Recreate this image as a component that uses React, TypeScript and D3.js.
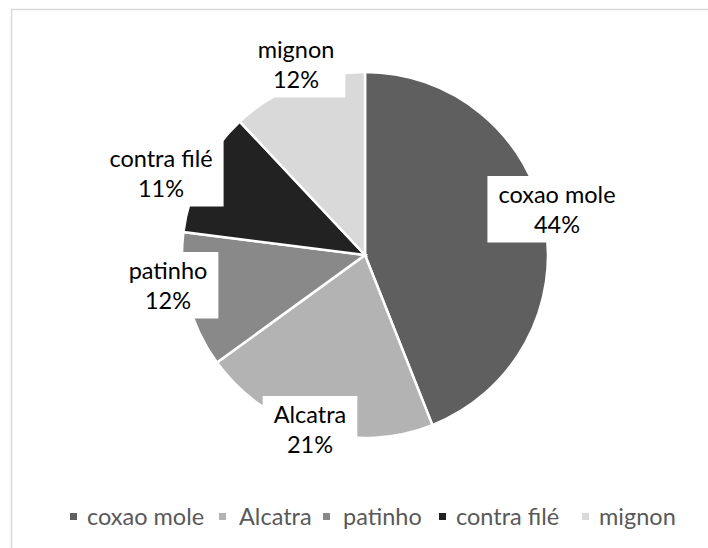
import React from "react";
import * as d3 from "d3";

const categories = ["coxao mole", "Alcatra", "patinho", "contra filé", "mignon"];
const values = [44, 21, 12, 11, 12];
const percentLabels = ["44%", "21%", "12%", "11%", "12%"];
const colors = ["#5f5f5f", "#b3b3b3", "#898989", "#222222", "#d9d9d9"];

// label layout: centre x, first baseline
const labelPos: [number, number][] = [
  [557, 203],
  [310, 423],
  [168, 279],
  [161, 167],
  [296, 58],
];
const legendMarkerX = [70, 219, 323, 439, 582];
const legendTextX = [87, 239, 343, 456, 599];

const W = 708;
const H = 548;
const cx = 365;
const cy = 255;
const R = 183;
const FS = 23.5;
const FONT = "Lato, 'Open Sans', sans-serif";

function measure(t: string): number {
  try {
    const c = document.createElement("canvas").getContext("2d");
    if (c) {
      c.font = `${FS}px Lato`;
      return c.measureText(t).width;
    }
  } catch (e) {}
  return t.length * FS * 0.47;
}

export default function App() {
  const pie = d3.pie<number>().sort(null).value((d) => d);
  const arcs = pie(values);
  const arc = d3.arc<d3.PieArcDatum<number>>().innerRadius(0).outerRadius(R);
  const lineGap = 29.5;

  return (
    <svg
      width={W}
      height={H}
      style={{ position: "absolute", left: 0, top: 0, background: "#fff" }}
    >
      <rect x={11.5} y={9.5} width={W} height={H} fill="#fff" stroke="#d9d9d9" strokeWidth={1.5} />
      <g transform={`translate(${cx},${cy})`}>
        {arcs.map((a, i) => (
          <path key={i} d={arc(a) || ""} fill={colors[i]} stroke="#fff" strokeWidth={2.5} />
        ))}
      </g>
      {arcs.map((a, i) => {
        const [lx, by] = labelPos[i];
        const tw = Math.max(measure(categories[i]), measure(percentLabels[i]));
        const bw = tw + 22;
        const top = by - 27;
        const bh = lineGap + 37;
        return (
          <g key={i}>
            <rect x={lx - bw / 2} y={top} width={bw} height={bh} fill="#fff" />
            <text x={lx} y={by} textAnchor="middle" fontFamily={FONT} fontSize={FS} fill="#000">
              {categories[i]}
            </text>
            <text x={lx} y={by + lineGap} textAnchor="middle" fontFamily={FONT} fontSize={FS} fill="#000">
              {percentLabels[i]}
            </text>
          </g>
        );
      })}
      {categories.map((c, i) => (
        <g key={c}>
          <rect x={legendMarkerX[i]} y={513} width={7} height={7} fill={colors[i]} />
          <text x={legendTextX[i]} y={525} fontFamily={FONT} fontSize={FS} fill="#595959">
            {c}
          </text>
        </g>
      ))}
    </svg>
  );
}
